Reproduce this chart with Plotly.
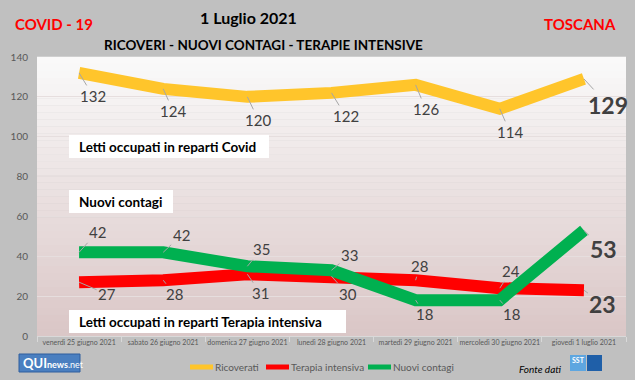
import plotly.graph_objects as go

categories = ["venerdì 25 giugno 2021", "sabato 26 giugno 2021", "domenica 27 giugno 2021",
              "lunedì 28 giugno 2021", "martedì 29 giugno 2021", "mercoledì 30 giugno 2021",
              "giovedì 1 luglio 2021"]
ricoverati = [132, 124, 120, 122, 126, 114, 129]
terapia = [27, 28, 31, 30, 28, 24, 23]
contagi = [42, 42, 35, 33, 18, 18, 53]
y_ticks = [0, 20, 40, 60, 80, 100, 120, 140]
series_names = ["Ricoverati", "Terapia intensiva", "Nuovi contagi"]

W, H = 635, 380
L, R, T, B = 37, 9, 57, 44
PW, PH = W - L - R, H - T - B

def px(x):
    return (x - L) / PW

def py(y):
    return (H - B - y) / PH

FONT = "Lato"
YEL, RED, GRN = "#FFC52B", "#FF0000", "#00B050"
COLORS = [YEL, RED, GRN]

fig = go.Figure()
for name, vals, col in zip(series_names, [ricoverati, terapia, contagi], COLORS):
    fig.add_trace(go.Scatter(x=categories, y=vals, name=name, mode="lines",
                             line=dict(color=col, width=12), showlegend=False))

# gradient plot background
shapes = []
n = 40
top = (250, 250, 250)
bot = (218, 198, 198)
for i in range(n):
    t = (i + 0.5) / n
    c = tuple(int(round(top[k] + (bot[k] - top[k]) * t)) for k in range(3))
    shapes.append(dict(type="rect", xref="paper", yref="paper", x0=0, x1=1,
                       y0=1 - (i + 1) / n, y1=1 - i / n + 0.001, line=dict(width=0),
                       fillcolor="rgb(%d,%d,%d)" % c, layer="below"))

annotations = []

def lab(series, offsets):
    for i, (c, v) in enumerate(zip(categories, series)):
        ax, ay = offsets[i]
        last = i == len(series) - 1
        annotations.append(dict(x=c, y=v, xref="x", yref="y",
                                text=("<b>%d</b>" % v) if last else ("%d" % v),
                                showarrow=True, arrowhead=0, arrowwidth=1, arrowcolor="#A6A6A6",
                                ax=ax, ay=ay,
                                font=dict(family=FONT, size=23 if last else 15, color="#404040")))

lab(ricoverati, [(14, 23), (10, 22), (11, 23), (14, 23), (10, 24), (10, 23), (24, 26)])
lab(terapia, [(28, 12), (11, 14), (13, 19), (16, 18), (4, -14), (11, -17), (19, 14)])
lab(contagi, [(18, -20), (18, -17), (14, -17), (18, -15), (9, 14), (12, 14), (20, 19)])

# text boxes
def box(x0, x1, y0, y1, text):
    shapes.append(dict(type="rect", xref="paper", yref="paper", x0=px(x0), x1=px(x1),
                       y0=py(y1), y1=py(y0), fillcolor="white", line=dict(width=0), layer="above"))
    annotations.append(dict(xref="paper", yref="paper", x=px(x0 + 8), y=py((y0 + y1) / 2),
                            xanchor="left", yanchor="middle", showarrow=False,
                            text="<b>%s</b>" % text,
                            font=dict(family=FONT, size=13.5, color="black")))

box(69, 269, 135, 158, "Letti occupati in reparti Covid")
box(69, 173, 190, 213, "Nuovi contagi")
box(69, 346, 310, 333, "Letti occupati in reparti Terapia intensiva")

# manual legend
leg_x = [190, 266, 368]
for name, col, lx in zip(series_names, COLORS, leg_x):
    shapes.append(dict(type="line", xref="paper", yref="paper", x0=px(lx), x1=px(lx + 23),
                       y0=py(367), y1=py(367), line=dict(color=col, width=5), layer="above"))
    annotations.append(dict(xref="paper", yref="paper", x=px(lx + 23), y=py(367),
                            xanchor="left", yanchor="middle", showarrow=False, text=name,
                            font=dict(family=FONT, size=10, color="#595959")))

# titles
annotations += [
    dict(xref="paper", yref="paper", x=px(248), y=py(18), xanchor="center", yanchor="middle",
         text="<b>1 Luglio 2021</b>",
         showarrow=False, font=dict(family=FONT, size=16, color="black")),
    dict(xref="paper", yref="paper", x=px(263), y=py(45), xanchor="center", yanchor="middle",
         text="<b>RICOVERI - NUOVI CONTAGI - TERAPIE INTENSIVE</b>",
         showarrow=False, font=dict(family=FONT, size=13.5, color="black")),
    dict(xref="paper", yref="paper", x=px(54), y=py(24), xanchor="center", yanchor="middle",
         text="<b>COVID - 19</b>",
         showarrow=False, font=dict(family=FONT, size=15, color="#FF0000")),
    dict(xref="paper", yref="paper", x=px(580), y=py(24), xanchor="center", yanchor="middle",
         text="<b>TOSCANA</b>",
         showarrow=False, font=dict(family=FONT, size=15, color="#FF0000")),
    dict(xref="paper", yref="paper", x=px(563), y=py(369), xanchor="right", yanchor="middle",
         text="<i>Fonte dati</i>", showarrow=False,
         font=dict(family=FONT, size=10, color="black")),
    dict(xref="paper", yref="paper", x=px(21), y=py(363), xanchor="left", yanchor="middle",
         text="<b>QUI</b><span style='font-size:9px'><b>news</b>.net</span>", showarrow=False,
         font=dict(family=FONT, size=13, color="white")),
    dict(xref="paper", yref="paper", x=px(578), y=py(360), xanchor="center", yanchor="middle",
         text="<b>SST</b>", showarrow=False,
         font=dict(family=FONT, size=7, color="white")),
]

# logos
shapes += [
    dict(type="rect", xref="paper", yref="paper", x0=px(19), x1=px(80), y0=py(372), y1=py(354),
         fillcolor="#4A7FC0", line=dict(color="#2E5E9E", width=1), layer="above"),
    dict(type="rect", xref="paper", yref="paper", x0=px(570), x1=px(586), y0=py(371), y1=py(355),
         fillcolor="#5EA6E0", line=dict(width=0), layer="above"),
    dict(type="rect", xref="paper", yref="paper", x0=px(587), x1=px(602), y0=py(371), y1=py(355),
         fillcolor="#1F5FA8", line=dict(width=0), layer="above"),
]

fig.update_layout(
    width=W, height=H,
    margin=dict(l=L, r=R, t=T, b=B, autoexpand=False),
    paper_bgcolor="#C0C0C0",
    plot_bgcolor="rgba(0,0,0,0)",
    font=dict(family=FONT, color="#595959"),
    shapes=shapes,
    annotations=annotations,
    showlegend=False,
    xaxis=dict(tickson="boundaries", ticks="outside", ticklen=5, tickcolor="#D9D9D9",
               showline=True, linecolor="#D9D9D9", showgrid=False,
               tickfont=dict(family=FONT, size=7, color="#595959"), tickangle=0,
               range=[-0.5, 6.5], automargin=False),
    yaxis=dict(range=[0, 140], tickvals=y_ticks, showgrid=True, gridcolor="#E6DEDE",
               gridwidth=1, zeroline=False, showline=False, automargin=False,
               tickfont=dict(family=FONT, size=10, color="#595959"), ticks="", ticklabelstandoff=8),
)

fig.write_html("out.html", config={"displayModeBar": False},
               post_script="document.body.style.margin='0';")
